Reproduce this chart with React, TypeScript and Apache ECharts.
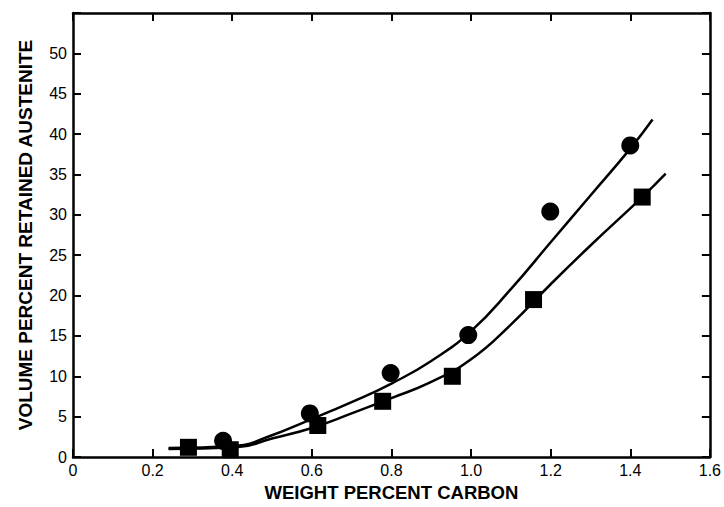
import React, { useEffect, useRef } from "react";
import * as echarts from "echarts";

const xTicks = [0, 0.2, 0.4, 0.6, 0.8, 1.0, 1.2, 1.4, 1.6];
const yTicks = [0, 5, 10, 15, 20, 25, 30, 35, 40, 45, 50];

// measured points (weight % C, vol % retained austenite)
const circlePts: [number, number][] = [
  [0.377, 2.0],
  [0.595, 5.4],
  [0.798, 10.4],
  [0.993, 15.1],
  [1.199, 30.4],
  [1.4, 38.6],
];
const squarePts: [number, number][] = [
  [0.29, 1.2],
  [0.395, 0.9],
  [0.615, 3.9],
  [0.778, 6.9],
  [0.953, 10.0],
  [1.157, 19.5],
  [1.43, 32.2],
];
// fitted curves
const upperCurve: [number, number][] = [
  [0.24, 1.1],
  [0.41, 1.4],
  [0.5, 2.7],
  [0.58, 4.3],
  [0.7, 6.8],
  [0.8, 9.1],
  [0.9, 11.9],
  [1.0, 15.6],
  [1.1, 20.8],
  [1.2, 26.6],
  [1.3, 32.4],
  [1.4, 38.2],
  [1.456, 41.8],
];
const lowerCurve: [number, number][] = [
  [0.24, 1.0],
  [0.41, 1.2],
  [0.5, 2.3],
  [0.6, 3.6],
  [0.7, 5.4],
  [0.8, 7.3],
  [0.9, 9.3],
  [1.0, 12.1],
  [1.1, 16.4],
  [1.2, 21.4],
  [1.3, 26.2],
  [1.43, 32.2],
  [1.489, 35.1],
];

export default function App() {
  const ref = useRef<HTMLDivElement>(null);
  useEffect(() => {
    if (!ref.current) return;
    const chart = echarts.init(ref.current, undefined, { renderer: "svg" });
    const font = "'Liberation Sans', Arial, Helvetica, sans-serif";
    const axisLine = { show: true, onZero: false, lineStyle: { color: "#000", width: 2.5 } };
    const tick = { show: true, inside: true, length: 8, lineStyle: { color: "#000", width: 2 } };
    const curveStyle = {
      type: "line",
      smooth: 0.5,
      showSymbol: false,
      lineStyle: { color: "#000", width: 2.5 },
      z: 2,
    };
    chart.setOption({
      animation: false,
      backgroundColor: "#fff",
      grid: { left: 73, right: 5, top: 13, bottom: 45 },
      xAxis: [
        {
          type: "value",
          position: "bottom",
          min: 0,
          max: 1.6,
          interval: 0.2,
          axisLine,
          axisTick: tick,
          splitLine: { show: false },
          axisLabel: {
            color: "#000",
            fontFamily: font,
            fontSize: 16,
            margin: 5,
            formatter: (v: number) => {
              const t = xTicks.find((k) => Math.abs(k - v) < 1e-6);
              if (t === undefined) return "";
              return t === 0 ? "0" : t.toFixed(1);
            },
          },
          name: "WEIGHT PERCENT CARBON",
          nameLocation: "middle",
          nameGap: 26,
          nameTextStyle: { color: "#000", fontFamily: font, fontSize: 18.5, fontWeight: "bold" },
        },
        {
          type: "value",
          position: "top",
          min: 0,
          max: 1.6,
          interval: 0.2,
          axisLine,
          axisTick: tick,
          splitLine: { show: false },
          axisLabel: { show: false },
        },
      ],
      yAxis: [
        {
          type: "value",
          position: "left",
          min: 0,
          max: 55,
          interval: 5,
          axisLine,
          axisTick: tick,
          splitLine: { show: false },
          axisLabel: {
            color: "#000",
            fontFamily: font,
            fontSize: 16,
            margin: 6,
            formatter: (v: number) => (yTicks.includes(v) ? String(v) : ""),
          },
          name: "VOLUME PERCENT RETAINED AUSTENITE",
          nameLocation: "middle",
          nameGap: 38,
          nameTextStyle: { color: "#000", fontFamily: font, fontSize: 19, fontWeight: "bold" },
        },
        {
          type: "value",
          position: "right",
          min: 0,
          max: 55,
          interval: 5,
          axisLine,
          axisTick: tick,
          splitLine: { show: false },
          axisLabel: { show: false },
        },
      ],
      series: [
        { ...curveStyle, data: upperCurve },
        { ...curveStyle, data: lowerCurve },
        {
          type: "scatter",
          data: circlePts,
          symbol: "circle",
          symbolSize: 18,
          itemStyle: { color: "#000", opacity: 1 },
          z: 3,
        },
        {
          type: "scatter",
          data: squarePts,
          symbol: "rect",
          symbolSize: 17,
          itemStyle: { color: "#000", opacity: 1 },
          z: 3,
        },
      ],
    });
    return () => chart.dispose();
  }, []);
  return <div ref={ref} style={{ width: 724, height: 507, position: "absolute", left: 0, top: 0 }} />;
}
